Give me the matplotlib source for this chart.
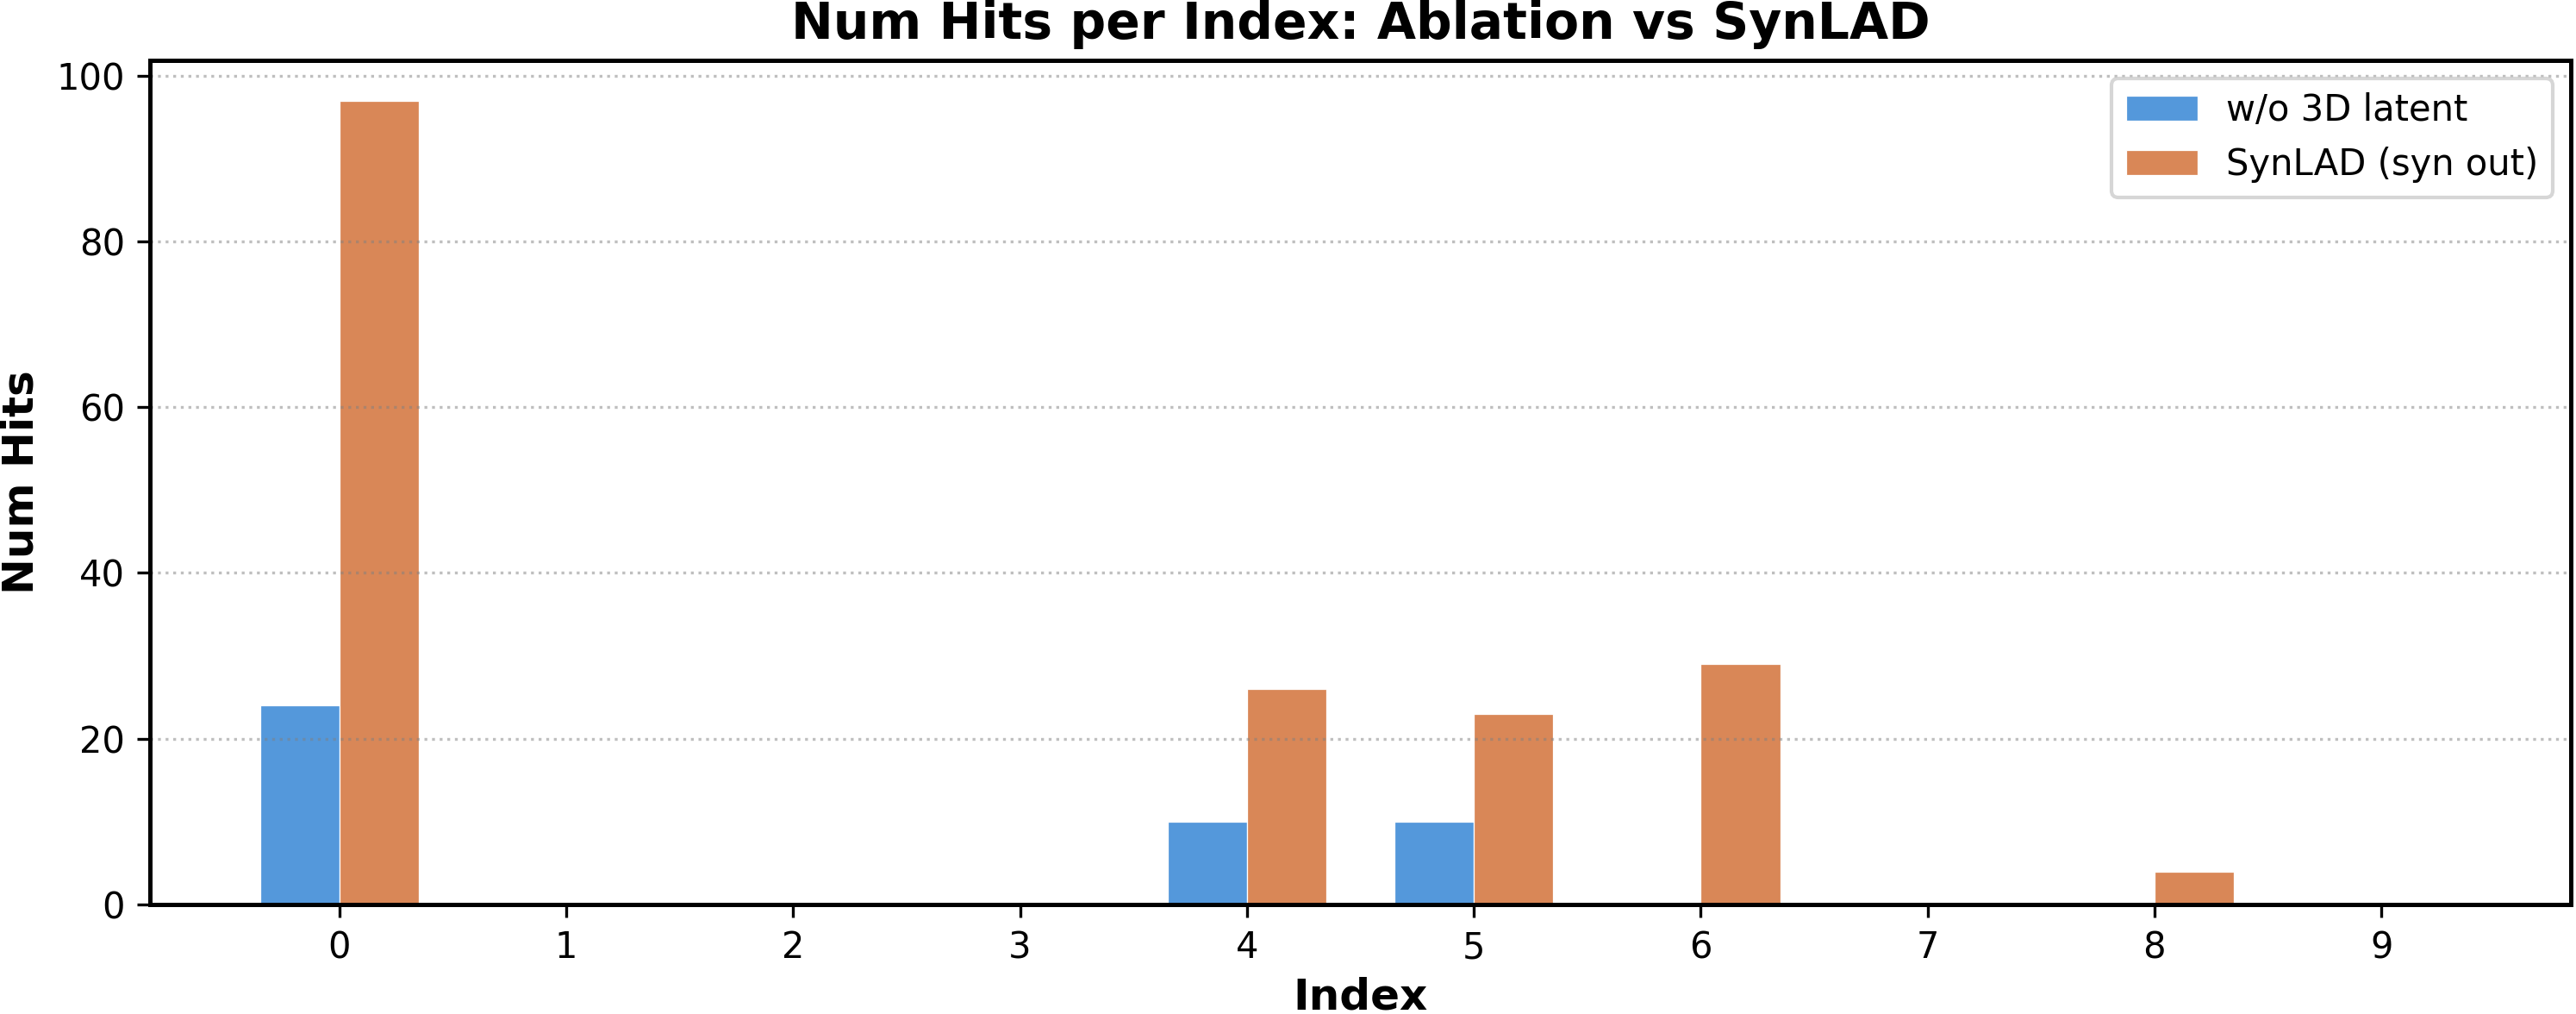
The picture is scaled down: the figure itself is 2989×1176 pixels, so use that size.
import numpy as np
import matplotlib
matplotlib.use("Agg")
import matplotlib.pyplot as plt

# Hits per index for the two methods
indices = np.arange(10)
hits_ablation = [24, 0, 0, 0, 10, 10, 0, 0, 0, 0]
hits_synlad = [97, 0, 0, 0, 26, 23, 29, 0, 4, 0]
labels = ['w/o 3D latent', 'SynLAD (syn out)']

width = 0.35

fig, ax = plt.subplots(figsize=(2989 / 300, 1176 / 300), dpi=300)
fig.subplots_adjust(left=0.0582, right=0.998, bottom=0.108, top=0.9405)

ax.bar(indices - width / 2, hits_ablation, width, label=labels[0],
       color='#5498DB', edgecolor='white', linewidth=0.3)
ax.bar(indices + width / 2, hits_synlad, width, label=labels[1],
       color='#D98757', edgecolor='white', linewidth=0.3)

ax.set_xlabel('Index', fontsize=12, fontweight='bold', labelpad=3)
ax.set_ylabel('Num Hits', fontsize=12, fontweight='bold')
ax.set_title('Num Hits per Index: Ablation vs SynLAD', fontsize=14, fontweight='bold')
ax.set_xticks(indices)
ax.tick_params(labelsize=10)
ax.yaxis.grid(True, linestyle=':', color='gray', alpha=0.5, linewidth=0.8)
for s in ax.spines.values():
    s.set_linewidth(1.2)
ax.legend(loc='upper right', fontsize=10)

fig.savefig('out.png', dpi=300)
